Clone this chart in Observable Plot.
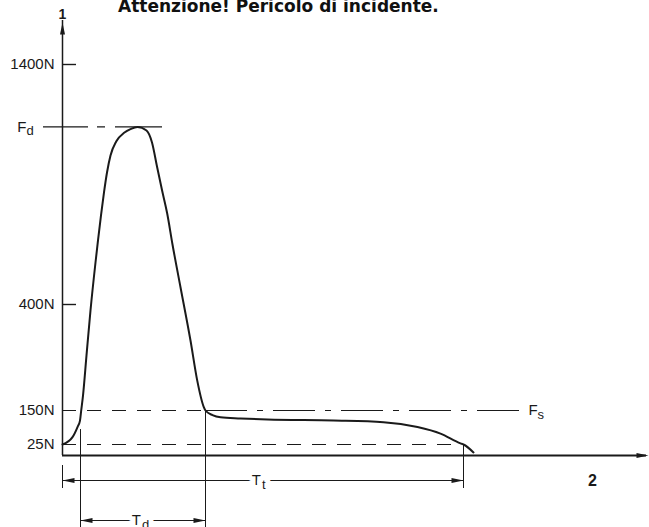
<!DOCTYPE html>
<html><head><meta charset="utf-8">
<script src="https://cdn.jsdelivr.net/npm/d3@7"></script>
<script src="https://cdn.jsdelivr.net/npm/@observablehq/plot@0.6"></script>
<style>
html,body{margin:0;padding:0;background:#fff;}
#wrap{position:relative;width:649px;height:527px;overflow:hidden;background:#fff;}
#chart svg{display:block;}
#title{position:absolute;left:118px;top:-2px;font-family:"DejaVu Sans";font-weight:bold;font-size:17px;line-height:17px;white-space:nowrap;color:#111;}
</style></head><body>
<div id="wrap"><div id="chart"></div><div id="title">Attenzione! Pericolo di incidente.</div></div>
<script>
// ---- data (schematic time units, force in N) ----
const curveT = [0, 10, 15, 17.5, 18.7, 20.5, 24, 28, 33, 35.5, 38.5, 41.5, 44.5, 48, 53.7, 62, 68, 75, 84, 89.5, 94.5, 99.6, 104.7, 110, 118, 128, 134.7, 141.3, 143, 150, 158, 178, 205, 271, 321, 355, 378, 398, 401, 411];
const curveF = [25, 52, 89, 113, 150, 185, 280, 386, 575, 667, 771, 867, 950, 1021, 1079, 1117, 1131, 1140, 1125, 1075, 975, 875, 779, 650, 472, 315, 221, 158, 150, 133, 125, 121, 117, 113, 107, 89, 65, 29, 25, 7];
const tickValues = [25, 150, 400, 1400];
const tickLabels = ["25N", "150N", "400N", "1400N"];
const Fd = 1140;          // peak force F_d
const Fs = 150;           // static force F_s
const Fend = 25;          // end threshold
const yAxisTop = 1575;    // axis arrow extent
const tAxisEnd = 586;     // axis arrow extent
const tD1 = 18, tD2 = 143, tT = 401;   // time markers
const tFdLineEnd = 100, tFsLineEnd = 460, tLabel2 = 530;
const tD1Start = 80;      // force where T_d extension starts
// schematic (non-proportional) force axis breakpoints of the drawing
const forceBreaks = [0, 25, 150, 400, 1400, yAxisTop];
const drawHeights = [0, 11, 45, 151, 391, 433];
const dims = [
  {name: "T", sub: "t", t1: 0, t2: tT},
  {name: "T", sub: "d", t1: tD1, t2: tD2}
];
const extensions = [
  {t: 0, F1: 0, F2: 0, top: 10, bottom: -33},
  {t: tD1, F1: tD1Start, F2: 0, top: 0, bottom: -72},
  {t: tD2, F1: Fs, F2: 0, top: 0, bottom: -72},
  {t: tT, F1: Fend, F2: 0, top: 0, bottom: -33}
];

const yPos = d3.scaleLinear().domain(forceBreaks).range(drawHeights);
const curve = curveT.map((t, i) => ({t, F: curveF[i]}));
const ink = "#1a1a1a";
const head = (L, W) => ({draw(c) { c.moveTo(0, 0); c.lineTo(-L, -W / 2); c.lineTo(-L, W / 2); c.closePath(); }});
const axisHead = head(12, 5);
const dimHead = head(12, 5);
const rowOffset = [25, 65];
const Y0 = yPos(0);

const dimMarks = dims.flatMap((d, i) => {
  const dy = rowOffset[i];
  const mid = (d.t1 + d.t2) / 2;
  return [
    Plot.ruleY([d], {x1: "t1", x2: "t2", y: () => Y0, dy, stroke: ink, strokeWidth: 1.1}),
    Plot.dot([d], {x: "t1", y: () => Y0, dy, symbol: dimHead, rotate: 180, fill: ink, stroke: null}),
    Plot.dot([d], {x: "t2", y: () => Y0, dy, symbol: dimHead, rotate: 0, fill: ink, stroke: null}),
    Plot.text([d], {x: () => mid, y: () => Y0, dy, dx: -2, text: "name", textAnchor: "end", fontSize: 15, fill: ink, stroke: "white", strokeWidth: 10, paintOrder: "stroke"}),
    Plot.text([d], {x: () => mid, y: () => Y0, dy: dy + 4, dx: -1, text: "sub", textAnchor: "start", fontSize: 13, fill: ink, stroke: "white", strokeWidth: 10, paintOrder: "stroke"})
  ];
});

const extMarks = extensions.map(e => Plot.ruleX([e], {x: "t", y1: d => yPos(d.F1), y2: d => yPos(d.F2), insetTop: e.top, insetBottom: e.bottom, stroke: ink, strokeWidth: 1}));

const labelAt = new Map(tickValues.map((v, i) => [yPos(v), tickLabels[i]]));

const chart = Plot.plot({
  width: 649, height: 527,
  marginTop: 22, marginRight: 1, marginBottom: 72, marginLeft: 62,
  style: {fontFamily: "Liberation Sans", fontSize: "15px", color: ink, background: "white"},
  x: {domain: [0, tAxisEnd], range: [62, 648], axis: null},
  y: {domain: [0, yPos(yAxisTop)], range: [455, 22]},
  marks: [
    // reference lines
    Plot.ruleY([Fd], {y: yPos, x1: () => 0, x2: () => tFdLineEnd, insetLeft: -19, stroke: ink, strokeWidth: 1.1, strokeDasharray: "45,9,8,10,80"}),
    Plot.ruleY([Fs], {y: yPos, x1: () => 0, x2: () => tD2, stroke: ink, strokeWidth: 1.1, strokeDasharray: "14,11"}),
    Plot.ruleY([Fs], {y: yPos, x1: () => tD2, x2: () => tFsLineEnd, stroke: ink, strokeWidth: 1.1, strokeDasharray: "42,10,6,10"}),
    Plot.ruleY([Fend], {y: yPos, x1: () => 0, x2: () => tT, stroke: ink, strokeWidth: 1.1, strokeDasharray: "14,11"}),
    Plot.ruleY([400, 1400], {y: yPos, x1: () => 0, x2: () => 14, stroke: ink, strokeWidth: 1.4}),
    // extension lines
    ...extMarks,
    // axes
    Plot.ruleX([0], {y1: () => Y0, y2: () => yPos(yAxisTop), insetBottom: 2, stroke: ink, strokeWidth: 1.5}),
    Plot.ruleY([Y0], {x1: () => 0, x2: () => tAxisEnd, insetRight: 2, stroke: ink, strokeWidth: 1.8}),
    Plot.dot([{t: 0, F: yAxisTop}], {x: "t", y: d => yPos(d.F), symbol: axisHead, rotate: -90, fill: ink, stroke: null}),
    Plot.dot([{t: tAxisEnd, F: 0}], {x: "t", y: d => yPos(d.F), symbol: axisHead, rotate: 0, fill: ink, stroke: null}),
    Plot.axisY({ticks: tickValues.map(v => yPos(v)), tickFormat: v => labelAt.get(v), tickSize: 0, tickPadding: 8, label: null, fontSize: 15}),
    // curve
    Plot.line(curve, {x: "t", y: d => yPos(d.F), curve: "monotone-x", stroke: ink, strokeWidth: 2}),
    // labels
    Plot.text(["1"], {x: () => 0, y: () => yPos(yAxisTop), dy: -4, lineAnchor: "bottom", fontWeight: "bold", fontSize: 14, fill: ink}),
    Plot.text(["2"], {x: () => tLabel2, y: () => Y0, dy: 25, fontWeight: "bold", fontSize: 16, fill: ink}),
    Plot.text(["F"], {x: () => 0, y: () => yPos(Fd), dx: -36, textAnchor: "end", fontSize: 15, fill: ink}),
    Plot.text(["d"], {x: () => 0, y: () => yPos(Fd), dx: -36, dy: 4, textAnchor: "start", fontSize: 13, fill: ink}),
    Plot.text(["F"], {x: () => tFsLineEnd, y: () => yPos(Fs), dx: 6, textAnchor: "start", fontSize: 15, fill: ink}),
    Plot.text(["s"], {x: () => tFsLineEnd, y: () => yPos(Fs), dx: 15, dy: 4, textAnchor: "start", fontSize: 13, fill: ink}),
    ...dimMarks
  ]
});
document.getElementById("chart").appendChild(chart);
</script>
</body></html>
